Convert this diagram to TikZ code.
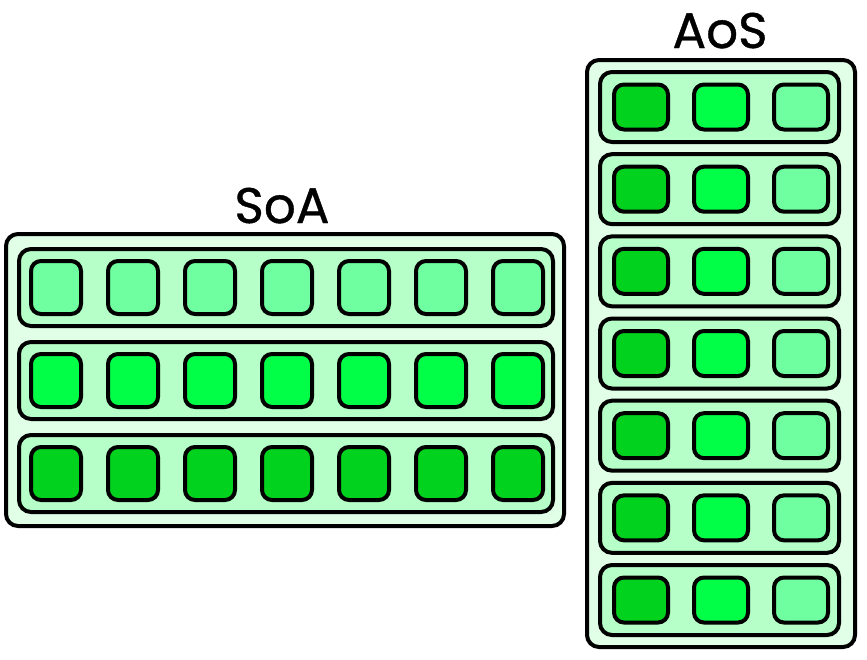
\documentclass[tikz,border=0pt]{standalone}
\usepackage{fontspec}
\setmainfont{Poppins}
\newfontfamily\titlefont{Poppins}[FakeBold=0.8]
\usetikzlibrary{backgrounds}

\definecolor{boxbg}{RGB}{225,255,230}
\definecolor{rowbg}{RGB}{182,255,200}
\definecolor{dkgreen}{RGB}{0,210,30}
\definecolor{mdgreen}{RGB}{0,255,70}
\definecolor{ltgreen}{RGB}{112,255,160}

\tikzset{
  outerbox/.style={draw, line width=4pt, rounded corners=12pt, fill=boxbg},
  rowbox/.style={draw, line width=4pt, rounded corners=12pt, fill=rowbg},
  cell/.style={draw, line width=4pt, rounded corners=10pt},
  title/.style={font=\titlefont\fontsize{50}{54}\selectfont, anchor=base, inner sep=0pt}
}

\begin{document}
\begin{tikzpicture}[x=1pt, y=-1pt]
    \useasboundingbox (0,0) rectangle (867,659);

    % structure of arrays
    \node[title] (soa) at (282,223) {SoA};
    \node[outerbox, minimum width=558pt, minimum height=292pt] (soabox) at (285,380) {};
    \foreach \r/\col in {1/ltgreen, 2/mdgreen, 3/dkgreen} {
      \node[rowbox, minimum width=534pt, minimum height=77pt]
        (soarow\r) at (286,194.5+93*\r) {};
      \foreach \c in {1,...,7}
        \node[cell, fill=\col, minimum width=50pt, minimum height=53pt]
          (soa\r\c) at (-21+77*\c,194.5+93*\r) {};
    }

    % array of structures
    \node[title] (aos) at (720,48) {AoS};
    \node[outerbox, minimum width=268pt, minimum height=587pt] (aosbox) at (721,353.5) {};
    \foreach \r in {1,...,7} {
      \node[rowbox, minimum width=239pt, minimum height=70pt]
        (aosrow\r) at (719.5,24.83+82.17*\r) {};
      \node[cell, fill=dkgreen, minimum width=54pt, minimum height=45pt] (aos\r1) at (641,24.83+82.17*\r) {};
      \node[cell, fill=mdgreen, minimum width=54pt, minimum height=45pt] (aos\r2) at (721,24.83+82.17*\r) {};
      \node[cell, fill=ltgreen, minimum width=54pt, minimum height=45pt] (aos\r3) at (801,24.83+82.17*\r) {};
    }
\end{tikzpicture}
\end{document}
